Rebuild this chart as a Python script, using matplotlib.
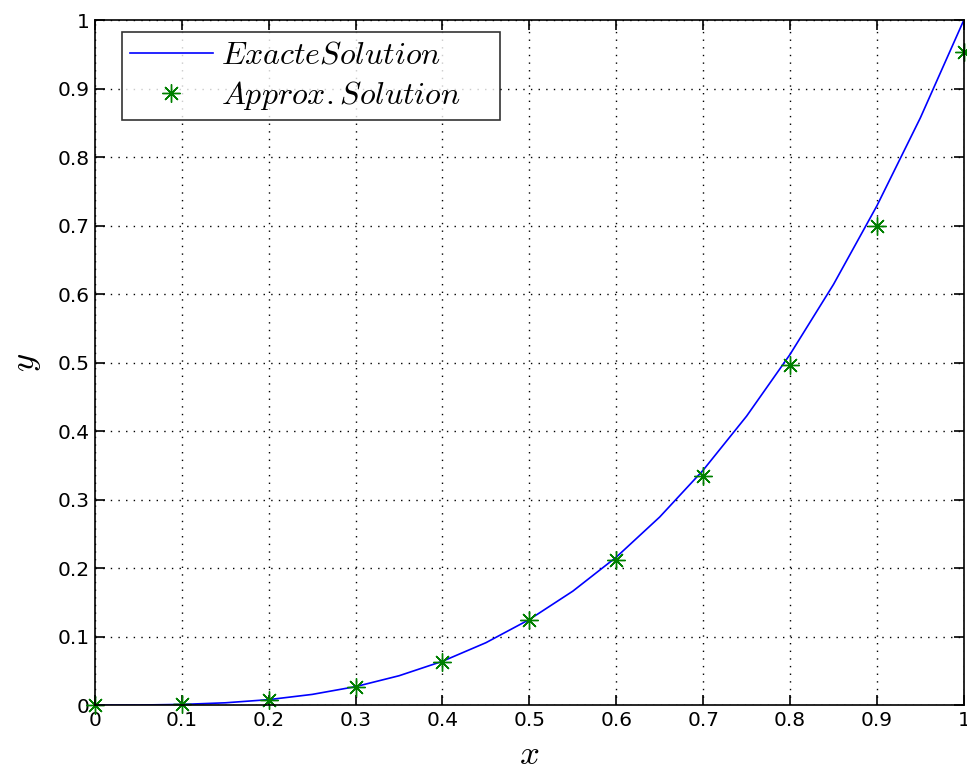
import matplotlib
matplotlib.use("Agg")
import matplotlib.pyplot as plt

plt.rcParams['mathtext.fontset'] = 'cm'

# Exact solution (sampled curve)
x_exact = [0.0, 0.05, 0.1, 0.15, 0.2, 0.25, 0.3, 0.35, 0.4, 0.45, 0.5,
           0.55, 0.6, 0.65, 0.7, 0.75, 0.8, 0.85, 0.9, 0.95, 1.0]
y_exact = [0.0, 0.000125, 0.001, 0.003375, 0.008, 0.015625, 0.027, 0.042875,
           0.064, 0.091125, 0.125, 0.166375, 0.216, 0.274625, 0.343, 0.421875,
           0.512, 0.614125, 0.729, 0.857375, 1.0]

# Approximate solution
x_approx = [0.0, 0.1, 0.2, 0.3, 0.4, 0.5, 0.6, 0.7, 0.8, 0.9, 1.0]
y_approx = [0.0, 0.001, 0.008, 0.027, 0.063, 0.124, 0.212, 0.335, 0.496, 0.700, 0.953]

xticks = [0, 0.1, 0.2, 0.3, 0.4, 0.5, 0.6, 0.7, 0.8, 0.9, 1]
xticklabels = ['0', '0.1', '0.2', '0.3', '0.4', '0.5', '0.6', '0.7', '0.8', '0.9', '1']
yticks = [0, 0.1, 0.2, 0.3, 0.4, 0.5, 0.6, 0.7, 0.8, 0.9, 1]
yticklabels = ['0', '0.1', '0.2', '0.3', '0.4', '0.5', '0.6', '0.7', '0.8', '0.9', '1']

fig = plt.figure(figsize=(9.67, 7.74), dpi=100)
ax = fig.add_axes([0.0982, 0.089, 0.8985, 0.885])

ax.plot(x_exact, y_exact, color=(0, 0, 1), lw=1.2,
        label=r'$Exacte Solution$    ')
ax.plot(x_approx, y_approx, linestyle='none', marker=(8, 2, 0), markersize=13,
        markeredgewidth=1.0, color=(0, 0.5, 0),
        label=r'$Approx. Solution$    ', clip_on=False)

ax.set_xlim(0, 1)
ax.set_ylim(0, 1)
ax.set_xticks(xticks)
ax.set_xticklabels(xticklabels)
ax.set_yticks(yticks)
ax.set_yticklabels(yticklabels)
ax.tick_params(direction='in', length=7, width=1.2, labelsize=14.5,
               top=True, right=True, pad=4)
for s in ax.spines.values():
    s.set_linewidth(1.2)
ax.grid(True, linestyle=(0, (1, 4.5)), color='black', linewidth=1.0)

ax.set_xlabel(r'$x$', fontsize=25, labelpad=5)
ax.set_ylabel(r'$y$', fontsize=25, labelpad=10)

leg = ax.legend(loc='upper left', bbox_to_anchor=(0.031, 0.983), fontsize=23,
                frameon=True, fancybox=False, edgecolor='black',
                handlelength=2.6, borderpad=0.25, labelspacing=0.25,
                handletextpad=0.25, borderaxespad=0)
leg.get_frame().set_linewidth(1.2)

fig.savefig('out.png', dpi=100)
